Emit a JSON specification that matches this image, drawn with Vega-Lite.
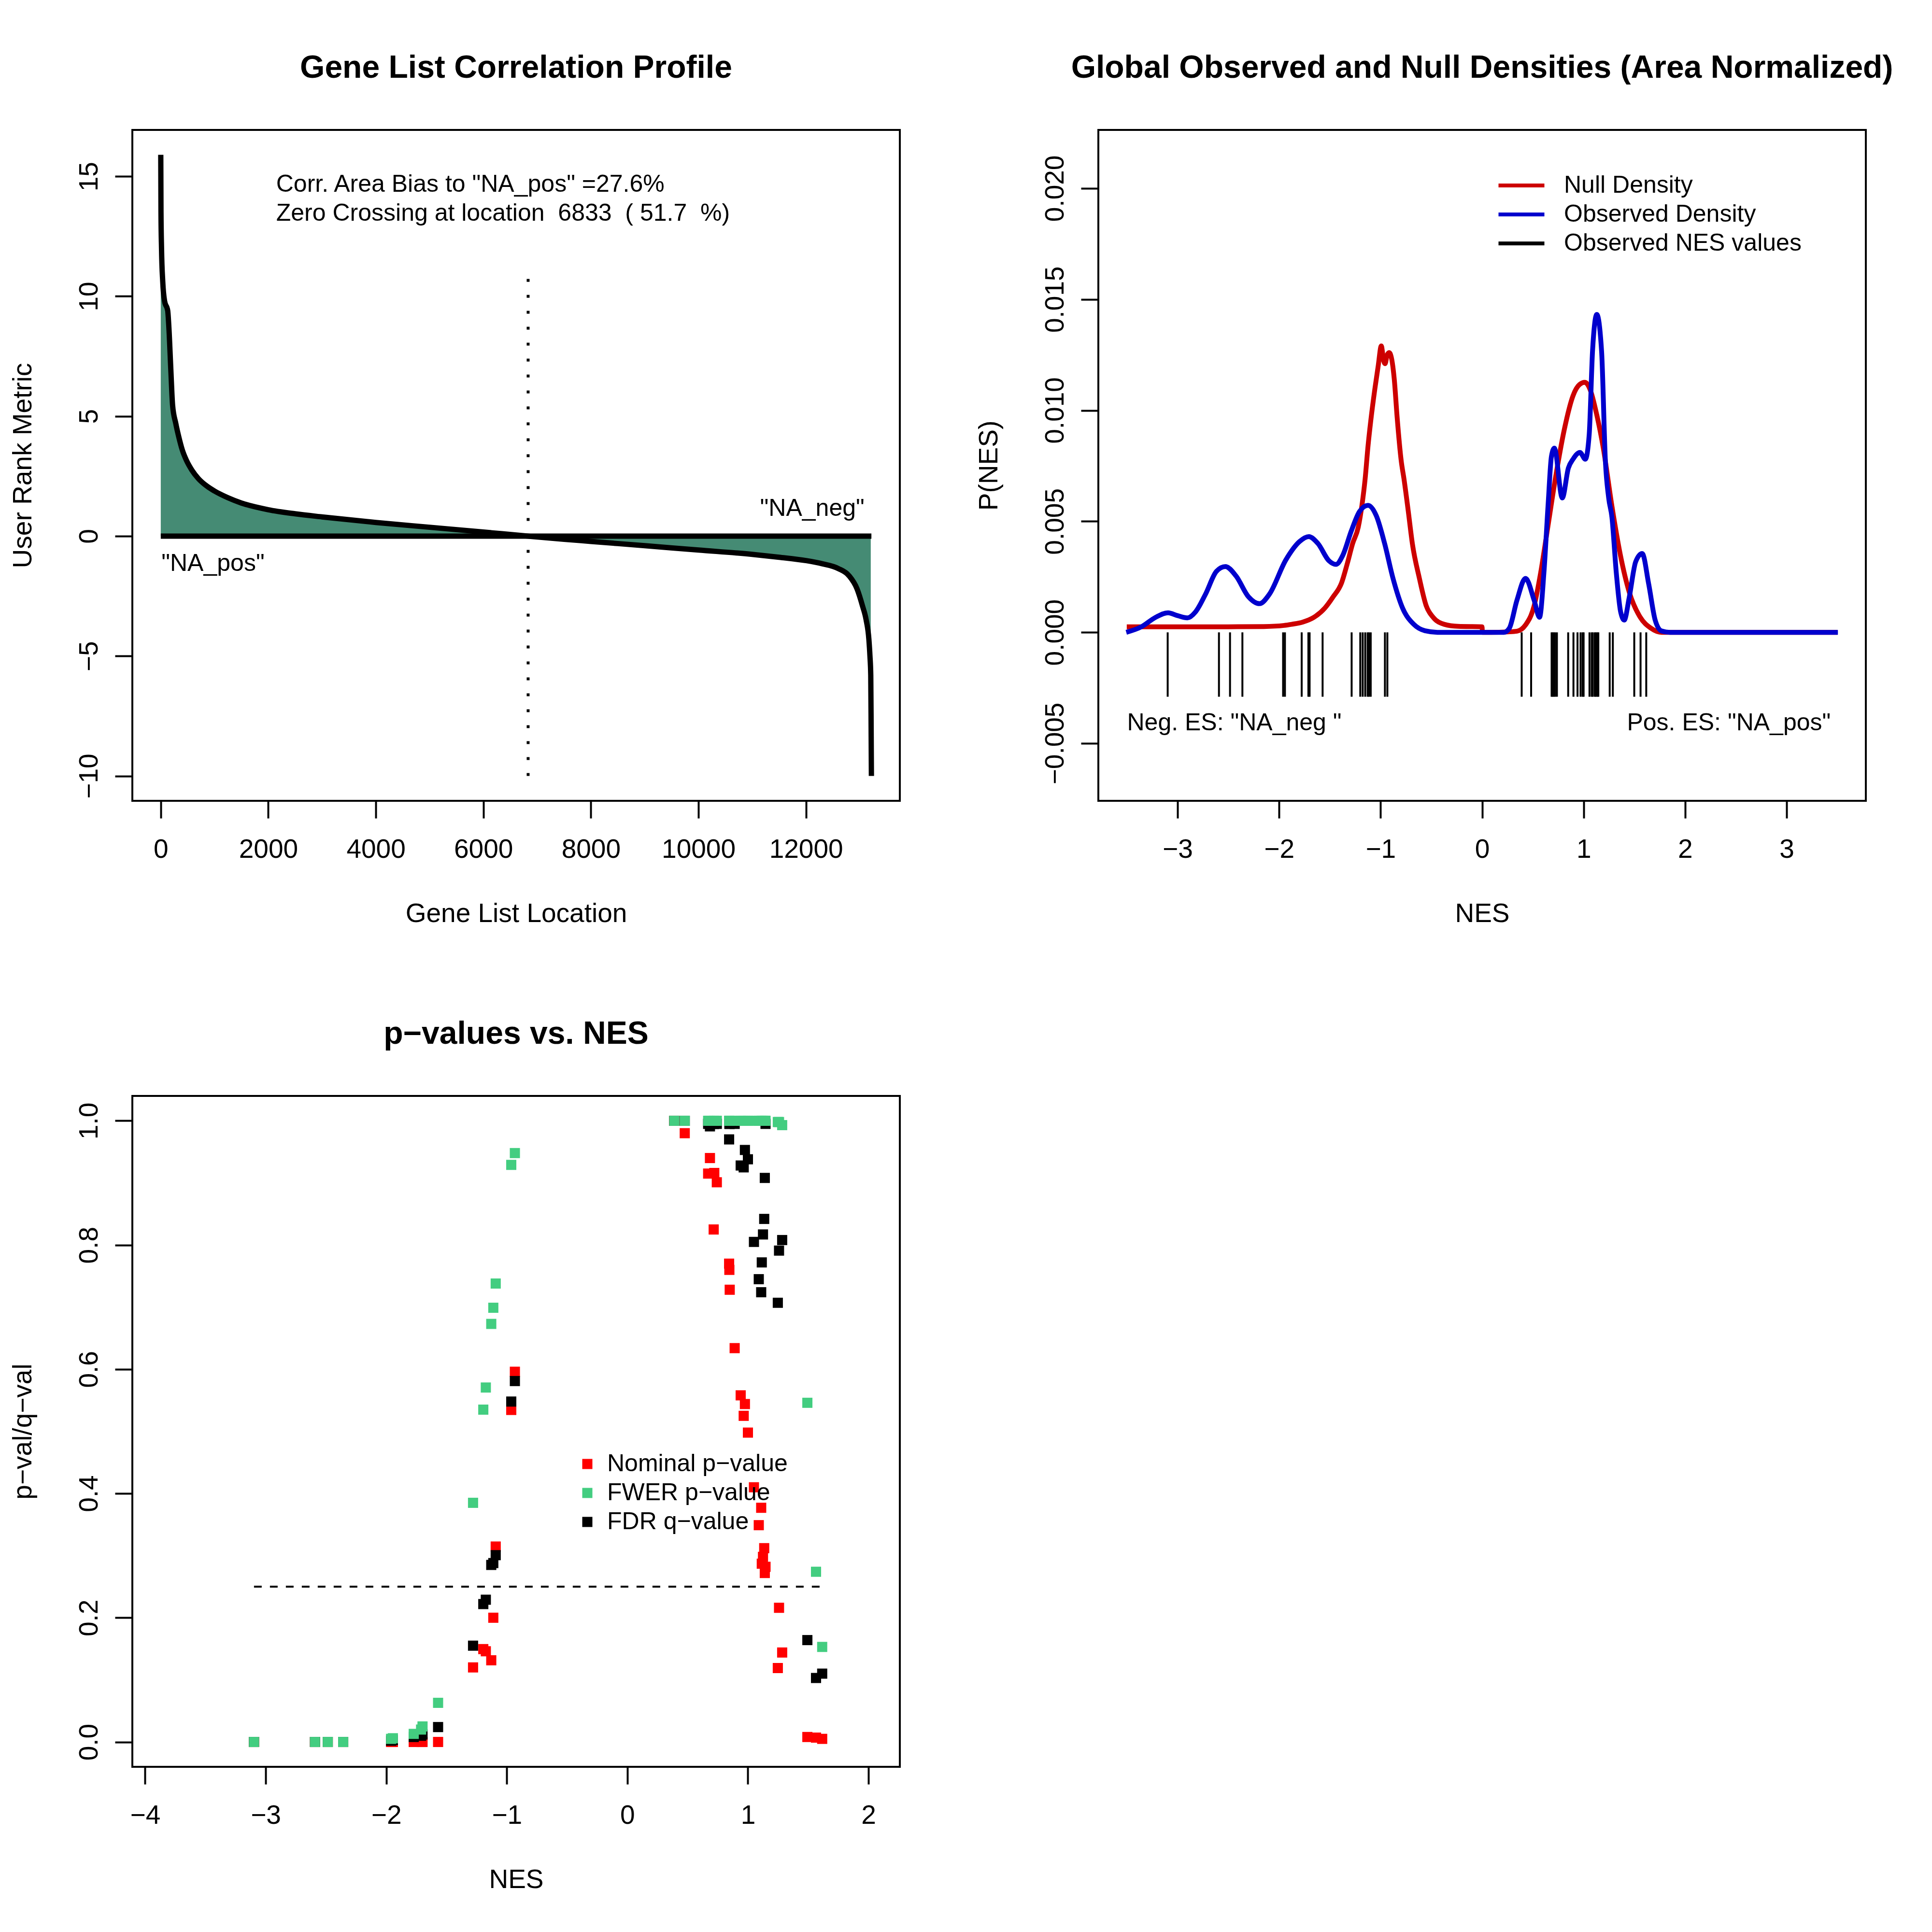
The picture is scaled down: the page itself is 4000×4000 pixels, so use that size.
{
  "$schema": "https://vega.github.io/schema/vega-lite/v6.json",
  "padding": {"left": 18, "top": 106, "right": 10, "bottom": 10},
  "background": "white",
  "columns": 2,
  "bounds": "flush",
  "spacing": {"row": 611, "column": 411},
  "resolve": {"scale": {"color": "independent"}, "legend": {"color": "independent"}},
  "config": {
    "font": "Liberation Sans",
    "view": {"stroke": "black", "strokeWidth": 4},
    "axis": {
      "domain": false, "grid": false,
      "tickColor": "black", "tickSize": 36, "tickWidth": 4,
      "labelFontSize": 55, "labelColor": "black", "labelFont": "Liberation Sans",
      "labelFlush": false, "labelOverlap": false,
      "titleFontSize": 55, "titleFontWeight": "normal", "titleColor": "black", "titleFont": "Liberation Sans"
    },
    "axisX": {"labelBaseline": "alphabetic", "labelPadding": 81, "titleY": 250, "titleBaseline": "alphabetic"},
    "axisY": {"labelAngle": -90, "labelAlign": "center", "labelBaseline": "alphabetic", "labelPadding": 37, "titleX": -210, "titleAngle": -90, "titleBaseline": "alphabetic", "titleAlign": "center"},
    "title": {"fontSize": 66, "fontWeight": "bold", "color": "black", "font": "Liberation Sans", "anchor": "middle", "baseline": "alphabetic", "offset": 94},
    "text": {"fontSize": 50, "color": "black", "baseline": "alphabetic"},
    "legend": {"labelFontSize": 50, "labelColor": "black", "labelFont": "Liberation Sans", "padding": 0, "labelLimit": 0}
  },
  "datasets": {
    "curve": [
      {"loc": 1, "metric": 15.9}, {"loc": 5, "metric": 13.5}, {"loc": 15, "metric": 12.0},
      {"loc": 38, "metric": 10.6}, {"loc": 72, "metric": 9.8}, {"loc": 130, "metric": 9.4},
      {"loc": 152, "metric": 8.7}, {"loc": 187, "metric": 7.0}, {"loc": 221, "metric": 5.45},
      {"loc": 280, "metric": 4.7}, {"loc": 340, "metric": 4.1}, {"loc": 400, "metric": 3.6},
      {"loc": 480, "metric": 3.15}, {"loc": 580, "metric": 2.75}, {"loc": 700, "metric": 2.4},
      {"loc": 850, "metric": 2.1}, {"loc": 1000, "metric": 1.88}, {"loc": 1250, "metric": 1.6},
      {"loc": 1500, "metric": 1.38}, {"loc": 2000, "metric": 1.1}, {"loc": 2500, "metric": 0.93},
      {"loc": 3000, "metric": 0.8}, {"loc": 4000, "metric": 0.57}, {"loc": 5000, "metric": 0.37},
      {"loc": 6000, "metric": 0.17}, {"loc": 6833, "metric": 0}, {"loc": 7500, "metric": -0.13},
      {"loc": 8000, "metric": -0.22}, {"loc": 9000, "metric": -0.4}, {"loc": 10000, "metric": -0.58},
      {"loc": 11000, "metric": -0.76}, {"loc": 11500, "metric": -0.88}, {"loc": 12000, "metric": -1.02},
      {"loc": 12300, "metric": -1.15}, {"loc": 12600, "metric": -1.35}, {"loc": 12800, "metric": -1.65},
      {"loc": 12950, "metric": -2.2}, {"loc": 13050, "metric": -2.9}, {"loc": 13120, "metric": -3.5},
      {"loc": 13170, "metric": -4.3}, {"loc": 13190, "metric": -5.0}, {"loc": 13205, "metric": -5.8},
      {"loc": 13212, "metric": -8.0}, {"loc": 13217, "metric": -10.0}
    ],
    "nullDensity": [
      {"nes": -3.5, "p": 0.00025}, {"nes": -3.0, "p": 0.00025}, {"nes": -2.5, "p": 0.00025},
      {"nes": -2.15, "p": 0.00026}, {"nes": -1.95, "p": 0.00031}, {"nes": -1.877, "p": 0.00036},
      {"nes": -1.767, "p": 0.00046}, {"nes": -1.658, "p": 0.00067}, {"nes": -1.549, "p": 0.00109},
      {"nes": -1.467, "p": 0.0016}, {"nes": -1.384, "p": 0.00223}, {"nes": -1.33, "p": 0.00306},
      {"nes": -1.275, "p": 0.004}, {"nes": -1.22, "p": 0.00473}, {"nes": -1.179, "p": 0.00587},
      {"nes": -1.152, "p": 0.00691}, {"nes": -1.124, "p": 0.00837}, {"nes": -1.097, "p": 0.00951},
      {"nes": -1.056, "p": 0.01097}, {"nes": -1.023, "p": 0.01201}, {"nes": -0.993, "p": 0.0129},
      {"nes": -0.968, "p": 0.0122}, {"nes": -0.955, "p": 0.0121}, {"nes": -0.935, "p": 0.0125},
      {"nes": -0.915, "p": 0.0126}, {"nes": -0.865, "p": 0.0114}, {"nes": -0.837, "p": 0.0097},
      {"nes": -0.796, "p": 0.0077}, {"nes": -0.769, "p": 0.0069}, {"nes": -0.727, "p": 0.00545},
      {"nes": -0.687, "p": 0.004}, {"nes": -0.618, "p": 0.00244}, {"nes": -0.55, "p": 0.00119},
      {"nes": -0.481, "p": 0.00067}, {"nes": -0.372, "p": 0.00036}, {"nes": -0.235, "p": 0.00027},
      {"nes": 0.0, "p": 0.00025}, {"nes": 0.003, "p": 0.0}, {"nes": 0.087, "p": 0.0},
      {"nes": 0.25, "p": 0.00002}, {"nes": 0.343, "p": 0.00005}, {"nes": 0.428, "p": 0.00033},
      {"nes": 0.513, "p": 0.0012}, {"nes": 0.577, "p": 0.00268}, {"nes": 0.641, "p": 0.00455},
      {"nes": 0.726, "p": 0.00704}, {"nes": 0.811, "p": 0.00916}, {"nes": 0.896, "p": 0.01066},
      {"nes": 0.96, "p": 0.01116}, {"nes": 1.013, "p": 0.01126}, {"nes": 1.066, "p": 0.01091},
      {"nes": 1.13, "p": 0.00979}, {"nes": 1.194, "p": 0.0083}, {"nes": 1.279, "p": 0.00568},
      {"nes": 1.364, "p": 0.00344}, {"nes": 1.449, "p": 0.00182}, {"nes": 1.556, "p": 0.00069},
      {"nes": 1.662, "p": 0.00019}, {"nes": 1.768, "p": 0.0}, {"nes": 3.5, "p": 0.0}
    ],
    "obsDensity": [
      {"nes": -3.505, "p": 0.0}, {"nes": -3.355, "p": 0.00025}, {"nes": -3.218, "p": 0.00067},
      {"nes": -3.094, "p": 0.00088}, {"nes": -2.999, "p": 0.00075}, {"nes": -2.903, "p": 0.00065},
      {"nes": -2.821, "p": 0.00093}, {"nes": -2.725, "p": 0.00171}, {"nes": -2.616, "p": 0.00275},
      {"nes": -2.528, "p": 0.00296}, {"nes": -2.424, "p": 0.00254}, {"nes": -2.301, "p": 0.0016},
      {"nes": -2.192, "p": 0.00129}, {"nes": -2.096, "p": 0.00171}, {"nes": -1.932, "p": 0.00327},
      {"nes": -1.795, "p": 0.0041}, {"nes": -1.707, "p": 0.00431}, {"nes": -1.617, "p": 0.004},
      {"nes": -1.508, "p": 0.00322}, {"nes": -1.439, "p": 0.00306}, {"nes": -1.371, "p": 0.00348},
      {"nes": -1.288, "p": 0.00457}, {"nes": -1.206, "p": 0.00545}, {"nes": -1.124, "p": 0.00572},
      {"nes": -1.042, "p": 0.00525}, {"nes": -0.96, "p": 0.004}, {"nes": -0.878, "p": 0.00244},
      {"nes": -0.783, "p": 0.00109}, {"nes": -0.673, "p": 0.00036}, {"nes": -0.563, "p": 0.00007},
      {"nes": -0.44, "p": 0.0}, {"nes": 0.215, "p": 0.0}, {"nes": 0.268, "p": 0.00018},
      {"nes": 0.343, "p": 0.00144}, {"nes": 0.428, "p": 0.00243}, {"nes": 0.513, "p": 0.00144},
      {"nes": 0.566, "p": 0.00068}, {"nes": 0.609, "p": 0.00268}, {"nes": 0.651, "p": 0.0058},
      {"nes": 0.683, "p": 0.00792}, {"nes": 0.712, "p": 0.0083}, {"nes": 0.79, "p": 0.00605},
      {"nes": 0.85, "p": 0.0074}, {"nes": 0.896, "p": 0.0078}, {"nes": 0.964, "p": 0.0081},
      {"nes": 1.017, "p": 0.0078}, {"nes": 1.055, "p": 0.0089}, {"nes": 1.088, "p": 0.01267},
      {"nes": 1.13, "p": 0.01432}, {"nes": 1.177, "p": 0.01267}, {"nes": 1.215, "p": 0.00768},
      {"nes": 1.247, "p": 0.00605}, {"nes": 1.279, "p": 0.00518}, {"nes": 1.322, "p": 0.00268},
      {"nes": 1.364, "p": 0.00094}, {"nes": 1.4, "p": 0.00055}, {"nes": 1.449, "p": 0.00156},
      {"nes": 1.513, "p": 0.00318}, {"nes": 1.577, "p": 0.00355}, {"nes": 1.641, "p": 0.00218},
      {"nes": 1.705, "p": 0.00055}, {"nes": 1.768, "p": 0.00006}, {"nes": 1.85, "p": 0.0},
      {"nes": 3.505, "p": 0.0}
    ],
    "rug": [
      {"nes": -3.097}, {"nes": -2.592}, {"nes": -2.483}, {"nes": -2.361}, {"nes": -1.96}, {"nes": -1.942},
      {"nes": -1.777}, {"nes": -1.711}, {"nes": -1.699}, {"nes": -1.571}, {"nes": -1.285}, {"nes": -1.2},
      {"nes": -1.176}, {"nes": -1.151}, {"nes": -1.127}, {"nes": -1.115}, {"nes": -1.097}, {"nes": -0.957},
      {"nes": -0.933}, {"nes": 0.39}, {"nes": 0.483}, {"nes": 0.685}, {"nes": 0.695}, {"nes": 0.707},
      {"nes": 0.72}, {"nes": 0.737}, {"nes": 0.848}, {"nes": 0.9}, {"nes": 0.94}, {"nes": 0.97},
      {"nes": 0.99}, {"nes": 1.0}, {"nes": 1.058}, {"nes": 1.08}, {"nes": 1.09}, {"nes": 1.11},
      {"nes": 1.12}, {"nes": 1.135}, {"nes": 1.145}, {"nes": 1.257}, {"nes": 1.288}, {"nes": 1.499},
      {"nes": 1.561}, {"nes": 1.617}
    ],
    "pvals": [
      {"nes": -3.097, "nominal": 0, "fwer": 0, "fdr": 0},
      {"nes": -2.591, "nominal": 0, "fwer": 0, "fdr": 0},
      {"nes": -2.485, "nominal": 0, "fwer": 0, "fdr": 0},
      {"nes": -2.357, "nominal": 0, "fwer": 0, "fdr": 0},
      {"nes": -1.96, "nominal": 0, "fwer": 0.005, "fdr": 0.002},
      {"nes": -1.945, "nominal": 0, "fwer": 0.006, "fdr": 0.003},
      {"nes": -1.772, "nominal": 0, "fwer": 0.013, "fdr": 0.008},
      {"nes": -1.711, "nominal": 0, "fwer": 0.02, "fdr": 0.01},
      {"nes": -1.699, "nominal": 0, "fwer": 0.025, "fdr": 0.012},
      {"nes": -1.57, "nominal": 0, "fwer": 0.063, "fdr": 0.024},
      {"nes": -1.28, "nominal": 0.12, "fwer": 0.385, "fdr": 0.155},
      {"nes": -1.195, "nominal": 0.1495, "fwer": 0.535, "fdr": 0.222},
      {"nes": -1.174, "nominal": 0.146, "fwer": 0.5706, "fdr": 0.229},
      {"nes": -1.129, "nominal": 0.1315, "fwer": 0.673, "fdr": 0.285},
      {"nes": -1.112, "nominal": 0.2, "fwer": 0.699, "fdr": 0.288},
      {"nes": -1.092, "nominal": 0.3146, "fwer": 0.738, "fdr": 0.3007},
      {"nes": -0.963, "nominal": 0.5345, "fwer": 0.929, "fdr": 0.548},
      {"nes": -0.933, "nominal": 0.596, "fwer": 0.948, "fdr": 0.581},
      {"nes": 0.389, "nominal": 1.0, "fwer": 1.0, "fdr": 1.0},
      {"nes": 0.476, "nominal": 0.98, "fwer": 1.0, "fdr": 1.0},
      {"nes": 0.67, "nominal": 0.915, "fwer": 1.0, "fdr": 0.995},
      {"nes": 0.685, "nominal": 0.94, "fwer": 1.0, "fdr": 0.991},
      {"nes": 0.716, "nominal": 0.825, "fwer": 1.0, "fdr": 0.995},
      {"nes": 0.721, "nominal": 0.916, "fwer": 1.0, "fdr": 0.995},
      {"nes": 0.742, "nominal": 0.901, "fwer": 1.0, "fdr": 0.995},
      {"nes": 0.844, "nominal": 0.77, "fwer": 1.0, "fdr": 0.97},
      {"nes": 0.846, "nominal": 0.76, "fwer": 1.0, "fdr": 0.995},
      {"nes": 0.849, "nominal": 0.728, "fwer": 1.0, "fdr": 0.995},
      {"nes": 0.89, "nominal": 0.634, "fwer": 1.0, "fdr": 0.995},
      {"nes": 0.94, "nominal": 0.558, "fwer": 1.0, "fdr": 0.928},
      {"nes": 0.965, "nominal": 0.525, "fwer": 1.0, "fdr": 0.925},
      {"nes": 0.975, "nominal": 0.544, "fwer": 1.0, "fdr": 0.953},
      {"nes": 1.0, "nominal": 0.498, "fwer": 1.0, "fdr": 0.938},
      {"nes": 1.05, "nominal": 0.41, "fwer": 1.0, "fdr": 0.805},
      {"nes": 1.09, "nominal": 0.349, "fwer": 1.0, "fdr": 0.745},
      {"nes": 1.11, "nominal": 0.377, "fwer": 1.0, "fdr": 0.724},
      {"nes": 1.115, "nominal": 0.287, "fwer": 1.0, "fdr": 0.772},
      {"nes": 1.125, "nominal": 0.298, "fwer": 1.0, "fdr": 0.817},
      {"nes": 1.135, "nominal": 0.312, "fwer": 1.0, "fdr": 0.842},
      {"nes": 1.14, "nominal": 0.272, "fwer": 1.0, "fdr": 0.908},
      {"nes": 1.146, "nominal": 0.282, "fwer": 1.0, "fdr": 0.995},
      {"nes": 1.248, "nominal": 0.119, "fwer": 0.998, "fdr": 0.707},
      {"nes": 1.258, "nominal": 0.216, "fwer": 0.998, "fdr": 0.791},
      {"nes": 1.284, "nominal": 0.144, "fwer": 0.993, "fdr": 0.808},
      {"nes": 1.493, "nominal": 0.008, "fwer": 0.546, "fdr": 0.164},
      {"nes": 1.565, "nominal": 0.007, "fwer": 0.274, "fdr": 0.103},
      {"nes": 1.616, "nominal": 0.005, "fwer": 0.153, "fdr": 0.11}
    ]
  },
  "concat": [
    {
      "width": 1589, "height": 1389,
      "title": "Gene List Correlation Profile",
      "layer": [
        {
          "data": {"name": "curve"},
          "transform": [{"filter": "datum.loc <= 13205"}],
          "mark": {"type": "area", "color": "#458B74", "interpolate": "monotone"},
          "encoding": {
            "x": {"field": "loc", "type": "quantitative", "scale": {"domain": [-527.64, 13745.64], "nice": false, "zero": false},
                  "axis": {"values": [0, 2000, 4000, 6000, 8000, 10000, 12000], "format": "d", "title": "Gene List Location"}},
            "y": {"field": "metric", "type": "quantitative", "scale": {"domain": [-11.036, 16.936], "nice": false, "zero": false},
                  "axis": {"values": [-10, -5, 0, 5, 10, 15], "format": "d", "title": "User Rank Metric"}},
            "y2": {"datum": 0}
          }
        },
        {
          "data": {"name": "curve"},
          "mark": {"type": "line", "color": "black", "strokeWidth": 11, "interpolate": "monotone"},
          "encoding": {
            "x": {"field": "loc", "type": "quantitative"},
            "y": {"field": "metric", "type": "quantitative"}
          }
        },
        {
          "data": {"values": [{}]},
          "mark": {"type": "rule", "color": "black", "strokeWidth": 11},
          "encoding": {"x": {"datum": 1}, "x2": {"datum": 13217}, "y": {"datum": 0}}
        },
        {
          "data": {"values": [{}]},
          "mark": {"type": "rule", "color": "black", "strokeWidth": 6, "strokeDash": [6, 27]},
          "encoding": {"x": {"datum": 6833}, "y": {"datum": -10}, "y2": {"datum": 10.85}}
        },
        {
          "data": {"values": [{}]},
          "mark": {"type": "text", "align": "left", "text": "Corr. Area Bias to \"NA_pos\" =27.6%"},
          "encoding": {"x": {"datum": 2147}, "y": {"datum": 14.36}}
        },
        {
          "data": {"values": [{}]},
          "mark": {"type": "text", "align": "left", "text": "Zero Crossing at location \u00a06833 \u00a0( 51.7 \u00a0%)"},
          "encoding": {"x": {"datum": 2147}, "y": {"datum": 13.14}}
        },
        {
          "data": {"values": [{}]},
          "mark": {"type": "text", "align": "center", "text": "\"NA_neg\""},
          "encoding": {"x": {"datum": 12117}, "y": {"datum": 0.85}}
        },
        {
          "data": {"values": [{}]},
          "mark": {"type": "text", "align": "center", "text": "\"NA_pos\""},
          "encoding": {"x": {"datum": 972}, "y": {"datum": -1.46}}
        }
      ]
    },
    {
      "width": 1589, "height": 1389,
      "title": "Global Observed and Null Densities (Area Normalized)",
      "layer": [
        {
          "data": {"name": "nullDensity"},
          "mark": {"type": "line", "strokeWidth": 10, "interpolate": "monotone"},
          "encoding": {
            "x": {"field": "nes", "type": "quantitative", "scale": {"domain": [-3.78, 3.78], "nice": false, "zero": false},
                  "axis": {"values": [-3, -2, -1, 0, 1, 2, 3], "format": "d", "title": "NES"}},
            "y": {"field": "p", "type": "quantitative", "scale": {"domain": [-0.00759, 0.02263], "nice": false, "zero": false},
                  "axis": {"values": [-0.005, 0, 0.005, 0.01, 0.015, 0.02], "format": ".3f", "title": "P(NES)"}},
            "color": {"datum": "Null Density", "type": "nominal",
                      "scale": {"domain": ["Null Density", "Observed Density", "Observed NES values"], "range": ["#CD0000", "#0000CD", "#000000"]},
                      "legend": {"orient": "none", "legendX": 851, "legendY": 90, "title": null, "symbolType": "M-2.5,0L2.5,0", "symbolSize": 1444, "symbolStrokeWidth": 8, "labelOffset": 63, "rowPadding": 10}}
          }
        },
        {
          "data": {"name": "obsDensity"},
          "mark": {"type": "line", "strokeWidth": 10, "interpolate": "monotone"},
          "encoding": {
            "x": {"field": "nes", "type": "quantitative"},
            "y": {"field": "p", "type": "quantitative"},
            "color": {"datum": "Observed Density", "type": "nominal"}
          }
        },
        {
          "data": {"name": "rug"},
          "mark": {"type": "rule", "strokeWidth": 4},
          "encoding": {
            "x": {"field": "nes", "type": "quantitative"},
            "y": {"datum": 0},
            "y2": {"datum": -0.0029},
            "color": {"datum": "Observed NES values", "type": "nominal"}
          }
        },
        {
          "data": {"values": [{}]},
          "mark": {"type": "text", "align": "left", "text": "Neg. ES: \"NA_neg \""},
          "encoding": {"x": {"datum": -3.497}, "y": {"datum": -0.00442}}
        },
        {
          "data": {"values": [{}]},
          "mark": {"type": "text", "align": "right", "text": "Pos. ES: \"NA_pos\""},
          "encoding": {"x": {"datum": 3.434}, "y": {"datum": -0.00442}}
        }
      ]
    },
    {
      "width": 1589, "height": 1389,
      "title": "p\u2212values vs. NES",
      "layer": [
        {
          "data": {"values": [{}]},
          "mark": {"type": "rule", "color": "black", "strokeWidth": 4, "strokeDash": [16, 17]},
          "encoding": {
            "x": {"datum": -3.097, "type": "quantitative", "scale": {"domain": [-4.106, 2.26], "nice": false, "zero": false},
                  "axis": {"values": [-4, -3, -2, -1, 0, 1, 2], "format": "d", "title": "NES"}},
            "x2": {"datum": 1.616},
            "y": {"datum": 0.25, "type": "quantitative", "scale": {"domain": [-0.04, 1.04], "nice": false, "zero": false},
                  "axis": {"values": [0, 0.2, 0.4, 0.6, 0.8, 1.0], "format": ".1f", "title": "p\u2212val/q\u2212val"}}
          }
        },
        {
          "data": {"name": "pvals"},
          "mark": {"type": "square", "size": 441, "opacity": 1},
          "encoding": {
            "x": {"field": "nes", "type": "quantitative"},
            "y": {"field": "nominal", "type": "quantitative"},
            "color": {"datum": "Nominal p\u2212value", "type": "nominal",
                      "scale": {"domain": ["Nominal p\u2212value", "FWER p\u2212value", "FDR q\u2212value"], "range": ["#FF0000", "#43CD80", "#000000"]},
                      "legend": {"orient": "none", "legendX": 917, "legendY": 737, "title": null, "symbolType": "square", "symbolSize": 441, "symbolStrokeWidth": 0, "labelOffset": 16, "rowPadding": 10, "symbolOpacity": 1}}
          }
        },
        {
          "data": {"name": "pvals"},
          "mark": {"type": "square", "size": 441, "opacity": 1},
          "encoding": {
            "x": {"field": "nes", "type": "quantitative"},
            "y": {"field": "fdr", "type": "quantitative"},
            "color": {"datum": "FDR q\u2212value", "type": "nominal"}
          }
        },
        {
          "data": {"name": "pvals"},
          "mark": {"type": "square", "size": 441, "opacity": 1},
          "encoding": {
            "x": {"field": "nes", "type": "quantitative"},
            "y": {"field": "fwer", "type": "quantitative"},
            "color": {"datum": "FWER p\u2212value", "type": "nominal"}
          }
        }
      ]
    }
  ]
}
